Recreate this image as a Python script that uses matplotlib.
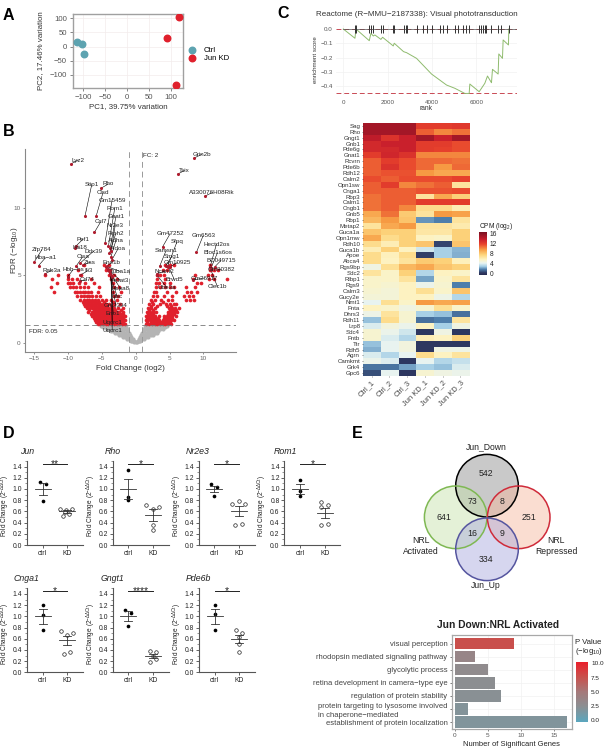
import numpy as np
import matplotlib
matplotlib.use('Agg')
import matplotlib.pyplot as plt
from matplotlib.colors import LinearSegmentedColormap
from matplotlib.patches import Circle

plt.rcParams['font.family'] = ['Liberation Sans', 'DejaVu Sans']
plt.rcParams['mathtext.default'] = 'regular'
plt.rcParams['axes.unicode_minus'] = True

W, H = 604, 749
TXT = '#333333'

# Panel A: PCA
pca_ctrl_x = [-115, -103, -99]
pca_ctrl_y = [15, 8, -25]
pca_kd_x = [92, 118, 112]
pca_kd_y = [32, 104, -135]

# Panel B: volcano, rows of points read by eye (fdr level: fold changes)
gray_rows = {
    0.03: [-0.2, 0, 0.2],
    0.12: [-0.7, -0.5, -0.3, 0.3, 0.5, 0.7],
    0.25: [-1.3, -1.0, -0.7, -0.45, 0.45, 0.7, 1.0, 1.3],
    0.4: [-1.9, -1.6, -1.3, -1.0, -0.65, 0.65, 1.0, 1.3, 1.6, 1.9],
    0.55: [-2.5, -2.2, -1.9, -1.6, -1.3, -0.85, 0.85, 1.3, 1.6, 1.9, 2.2, 2.5],
    0.7: [-3.1, -2.8, -2.5, -2.2, -1.9, -1.6, -1.0, 1.0, 1.6, 1.9, 2.2, 2.5, 2.8, 3.1],
    0.85: [-3.6, -3.3, -3.0, -2.7, -2.4, -2.1, -1.8, -1.2, 1.2, 1.8, 2.1, 2.4, 2.7, 3.0, 3.3],
    1.0: [-4.2, -3.9, -3.6, -3.3, -3.0, -2.7, -2.4, -2.1, -1.7, -1.3, 1.3, 1.7, 2.1, 2.4, 2.7, 3.0, 3.3, 3.6, 4.0],
    1.15: [-4.8, -4.5, -4.2, -3.9, -3.6, -3.3, -3.0, -2.7, -2.4, -2.1, -1.8, -1.4, 1.4, 1.8, 2.1, 2.4, 2.7, 3.0, 3.3, 3.6, 4.0, 4.4],
    1.27: [-5.1, -4.7, -4.3, -3.9, -3.5, -3.1, -2.7, -2.3, -1.9, -1.5, 1.5, 1.9, 2.3, 2.7, 3.1, 3.5, 3.9, 4.3, 4.7],
}
red_rows = {
    1.4: [-5.6, -5.2, -4.8, -4.4, -4, -3.6, -3.2, -2.8, -2.4, -2, -1.6, 1.5, 2, 2.4, 2.8, 3.2, 3.6, 4, 4.4, 4.8, 5.2],
    1.55: [-5.8, -5.4, -5, -4.6, -4.2, -3.8, -3.4, -3, -2.6, -2.2, -1.8, 1.7, 2.2, 2.6, 3, 3.4, 3.8, 4.2, 4.6, 5],
    1.7: [-6, -5.6, -5.2, -4.8, -4.4, -4, -3.6, -3.2, -2.8, -2.4, -2, -1.6, 1.5, 1.9, 2.3, 2.7, 3.1, 3.5, 4, 4.4, 4.8, 5.2, 5.6],
    1.85: [-6.2, -5.8, -5.4, -5, -4.6, -4.2, -3.8, -3.4, -3, -2.6, -2.2, -1.8, 1.7, 2.1, 2.5, 2.9, 3.3, 4.2, 4.6, 5, 5.4],
    2.0: [-6.4, -6, -5.6, -5.2, -4.8, -4.4, -4, -3.6, -3.2, -2.8, -2.4, -2, -1.6, 1.6, 2, 2.4, 2.8, 3.4, 4.2, 4.6, 5, 5.4, 5.9],
    2.15: [-6.6, -6.2, -5.8, -5.4, -5, -4.6, -4.2, -3.8, -3.4, -3, -2.6, -2.2, -1.8, 1.8, 2.2, 2.6, 4.8, 5.2, 5.7],
    2.3: [-7, -6.4, -6, -5.6, -5.2, -4.8, -4.4, -4, -3.6, -3.2, -2.8, -2.4, -1.8, 1.7, 2.1, 2.5, 3, 4.8, 5.2, 5.6, 6.1],
    2.45: [-6.8, -6.2, -5.8, -5.4, -5, -4.6, -4.2, -3.8, -3.4, -3, -2.2, 2, 2.6, 5, 5.5, 6],
    2.6: [-7.2, -6.8, -6.4, -6, -5.6, -5.2, -4.8, -4.4, -4, -3.6, -3.2, -2.6, -1.9, 1.8, 2.3, 2.8, 4.9, 5.4, 5.8, 6.4],
    2.75: [-7.4, -7, -6.6, -6.2, -5.8, -5.4, -5, -4.6, -4.2, -3.5, 2.2, 3.2, 4.7, 5.2],
    2.9: [-7.6, -7.2, -6.8, -6.4, -6, -5.6, -5.2, -4.8, -4.4, -3.9, -3.2, -2.3, 2, 2.5, 3.6, 4.5, 5, 5.6, 6],
    3.05: [-7.8, -7.4, -7, -6.6, -6.2, -5.8, -5.4, -4.7, -3.4, 2.4, 4.1],
    3.2: [-8.2, -7.6, -7.2, -6.8, -6.4, -6, -5.6, -5, -4.4, -3.6, -2.8, 2.2, 2.9, 3.8, 4.8, 5.4, 7.5, 8, 8.6],
    3.5: [-8.6, -8, -7.6, -7.2, -6.8, -6.4, -5.9, -5.2, -3.2, -2.6, 2.5, 3.2, 4.2, 5.4, 7.2, 7.9, 8.4],
    3.8: [-9, -8.6, -8.2, -7.8, -7.4, -7, -6.5, -5.6, -12, -3.4, -2.2, 2.7, 3, 4.6, 6, 7.6, 8.2, 9],
    4.1: [-9.6, -9.2, -8.8, -8.2, -7.6, -7, -5.4, -3.2, -2.4, -12.4, 3, 3.6, 4.4, 5, 5.6, 7.5, 8.8],
    4.4: [-10, -9.6, -9.2, -8.4, -7.4, -6.2, -3.4, -11.6, 3, 3.4, 4.2, 5, 9, 9.6],
    4.7: [-10, -9.4, -8.6, -6.6, -3.6, -2.8, -12.3, 3.2, 4.4, 8.4, 10.8, 11.6, 13.4],
    5.0: [-9.9, -8, -3.2, -3.9, -13.3, -11.4, 3.1, 3.6, 4.2, 8.8, 10.6, 11.3],
    5.4: [-8.5, -4.3, -3.7, 4, 4.6, 11, 11.5, 12.2],
    5.8: [-7.6, -4.6, -3.9, 4.4, 5, 5.6, 10.9],
}

gene_names = ['Grin2b', 'Lyz2', 'Tsix', 'Stip1', 'Rho', 'Clsd', 'Ccl7', 'Gm15459', 'Rom1', 'Gnat1', 'Nr2e3',
              'Prph2', 'Aldha', 'Aldoa', 'Pef1', 'Krt18', 'Ddx39', 'Zfp784', 'Hba−a1', 'Ctsa', 'Ztss', 'Eno1b',
              'Gm47252', 'Sfpq', 'Samsn1', 'Smg1', 'Gm10925', 'Gm6563', 'Hectd2os', 'Bloc1s6os', 'BC049715',
              'A330076H08Rik', 'Rab3a', 'Hbb−bs', 'Ifi3', 'Cd74', 'Tuba1a', 'Arpat3', 'Hspa8', 'Ubc', 'Gm3394',
              'Eno1', 'Uqcrc1', 'Uqcrc1', 'Ncam2', 'Ube3a', 'Brwd5', 'Gm26917', 'Gm30382', 'Clec1b']
gene_x = [8.68, -9.5, 6.2, -7.45, -5.04, -5.83, -6.07, -4.5, -4.0, -3.76, -3.6,
          -3.85, -3.65, -3.5, -8.75, -8.97, -8.2, -14.9, -14.3, -8.8, -7.7, -4.4,
          4.0, 4.75, 3.56, 4.44, 5.1, 8.97, 11.0, 11.1, 11.7,
          10.25, -13.4, -10.0, -8.2, -8.2, -4.25, -4.1, -4.0, -3.9, -3.8,
          -3.7, -3.6, -3.5, 3.1, 3.1, 4.85, 8.4, 11.0, 11.1]
gene_y = [13.74, 13.3, 12.53, 9.43, 11.5, 9.38, 8.2, 7.44, 7.2, 7.0, 6.85,
          6.65, 6.35, 6.15, 7.2, 7.0, 5.9, 6.03, 5.73, 5.66, 5.77, 5.6,
          7.14, 5.7, 5.7, 5.7, 5.65, 6.72, 5.65, 5.54, 5.65,
          10.9, 5.1, 4.9, 5.0, 4.6, 5.66, 5.5, 5.4, 5.3, 5.2,
          5.1, 5.0, 4.9, 5.1, 5.05, 5.65, 4.65, 5.6, 5.4]
label_x = [9.76, -8.5, 7.2, -6.46, -4.0, -4.8, -5.09, -3.47, -3.07, -2.9, -3.0,
           -2.9, -2.9, -2.6, -7.74, -8.2, -6.2, -13.8, -13.3, -7.8, -6.7, -3.5,
           5.09, 6.1, 4.5, 5.3, 6.17, 9.96, 11.9, 12.07, 12.56,
           11.3, -12.36, -9.2, -7.0, -7.2, -2.3, -2.3, -2.2, -2.7, -2.9,
           -3.3, -3.45, -3.45, 4.2, 4.6, 5.7, 10.1, 12.7, 12.07]
label_y = [14.0, 13.57, 12.8, 11.76, 11.8, 11.16, 9.03, 10.6, 10.0, 9.38, 8.73,
           8.14, 7.6, 6.97, 7.7, 7.05, 6.8, 6.92, 6.3, 6.38, 5.98, 5.98,
           8.1, 7.5, 6.85, 6.4, 5.95, 7.96, 7.3, 6.68, 6.1,
           11.16, 5.38, 5.43, 5.36, 4.67, 5.3, 4.64, 4.0, 3.4, 2.78,
           2.16, 1.5, 0.9, 5.3, 4.1, 4.7, 4.8, 5.4, 4.15]

# Panel C: running enrichment score
gsea_rank = [0, 525, 570, 1170, 1245, 1350, 1425, 1695, 1770, 2250, 2295, 2715, 2850, 3300, 3975, 4650,
             5025, 5475, 5670, 5700, 6120, 6225, 6375, 6495, 6675, 6720, 6975, 7005, 7170, 7200, 7440, 7455, 7800]
gsea_es = [0, -0.065, 0, -0.082, -0.03, -0.049, -0.042, -0.073, -0.058, -0.119, -0.10, -0.159, -0.166, -0.206,
           -0.316, -0.393, -0.416, -0.452, -0.452, -0.386, -0.44, -0.416, -0.381, -0.33, -0.377, -0.283, -0.316,
           -0.175, -0.206, -0.077, -0.112, 0, 0]
gsea_hits = [525, 570, 1170, 1245, 1350, 1695, 1770, 2250, 2295, 2715, 2805, 2850, 3300, 3570, 3750, 3975, 4350,
             4500, 4650, 5025, 5145, 5400, 5520, 5670, 6120, 6225, 6300, 6375, 6450, 6675, 6975, 7125, 7455]

# Panel C: heatmap
heat_genes = ['Sag', 'Rho', 'Gngt1', 'Gnb1', 'Pde6g', 'Gnat1', 'Rcvrn', 'Pde6b', 'Rdh12', 'Calm2', 'Opn1sw',
              'Cnga1', 'Rbp3', 'Calm1', 'Cngb1', 'Gnb5', 'Rbp1', 'Metap2', 'Guca1a', 'Opn1mw', 'Rdh10', 'Guca1b',
              'Apoe', 'Abca4', 'Rgs9bp', 'Sdc2', 'Rlbp1', 'Rgs9', 'Calm3', 'Gucy2e', 'Nmt1', 'Fnta', 'Dhrs3',
              'Rdh11', 'Lrp8', 'Sdc4', 'Fntb', 'Ttr', 'Rdh5', 'Agrn', 'Camkmt', 'Grk4', 'Gpc6']
heat_samples = ['Ctrl_1', 'Ctrl_2', 'Ctrl_3', 'Jun KD_1', 'Jun KD_2', 'Jun KD_3']
heat_vals = [
    [15, 15, 15, 12, 12, 12.2], [15, 15, 15, 11, 10, 10.5], [14, 12.5, 13.5, 15, 13.5, 15],
    [13, 13.5, 13.5, 12, 12, 11.5], [13, 13, 13.5, 12, 11.8, 11.5], [12, 13.2, 12.5, 10, 10, 10],
    [11, 12, 11.5, 10.7, 10.7, 10.5], [11, 12.5, 11.5, 10.7, 9.5, 10.7], [11, 11.3, 11.3, 9.5, 9, 9],
    [11.5, 11, 11.5, 11.5, 11.5, 11.8], [11, 12, 10, 10.5, 11, 6.5], [11, 11, 11, 11.3, 11.3, 11.5],
    [10.5, 11, 11, 6.5, 9, 7.5], [10.5, 11, 11, 12, 12, 12], [10.5, 11, 10, 7, 7, 5.8],
    [9, 10.5, 7.8, 6.5, 9.5, 9.2], [8.5, 9.5, 8, 1.8, 1.5, 6.5], [6.5, 9, 9.5, 6.5, 6.5, 6],
    [8, 7.5, 7.5, 6.3, 6.3, 7.5], [9, 7, 7.5, 5.5, 5.3, 7.5], [7, 5.8, 7.5, 8, 0.3, 8],
    [5.8, 7.5, 5.5, 3.5, 2.8, 2.3], [7, 5.6, 7, 0.2, 2.8, 2.2], [7, 5.5, 6.5, 7.8, 7.5, 5.6],
    [4.5, 6.8, 8.5, 9, 8, 7.5], [6.5, 5.3, 7.5, 3, 5.5, 5.3], [5.2, 5.3, 6.5, 2, 5.2, 6.5],
    [5.2, 5, 5.5, 4.2, 5, 1.5], [5, 4.8, 5.5, 6.8, 5.2, 8], [4.8, 4.8, 5.5, 5.5, 4.3, 3],
    [4, 6.8, 5.3, 9.5, 9, 9.3], [5.5, 5.2, 4.5, 5, 6.8, 5.2], [4.3, 6.5, 5, 2.8, 2.5, 1.2],
    [2.5, 7, 5, 1.2, 1.5, 6.5], [3.7, 4.7, 4.2, 5.5, 2.7, 4.5], [5, 4.2, 3.5, 0, 4.5, 0],
    [5, 3.7, 3, 5.8, 5.5, 7.5], [2.5, 4, 4.6, 0, 0, 0], [2.2, 4, 4.6, 0, 4.5, 4.3],
    [3.7, 3, 4, 7, 5.5, 6.5], [4.2, 3.8, 0, 4, 3, 3.3], [1.3, 1.3, 2, 2.8, 2.5, 3.7],
    [0.5, 4, 0, 5, 4.5, 4.2],
]

# Panel D: qPCR
qpcr_genes = ['Jun', 'Rho', 'Nr2e3', 'Rom1', 'Cnga1', 'Gngt1', 'Pde6b']
qpcr_stars = ['**', '*', '*', '*', '*', '****', '*']
ctrl_vals = [[1.12, 1.09, 0.79], [1.34, 0.85, 0.80], [1.09, 1.04, 0.87], [1.16, 0.97, 0.87],
             [1.21, 1.02, 0.76], [1.12, 1.06, 0.83], [1.20, 1.05, 0.76]]
ctrl_off = [[-0.13, 0.13, 0], [0, 0, 0], [-0.13, 0.13, 0], [0, 0, 0], [0, 0, 0], [-0.13, 0.13, 0], [0, 0, 0]]
ctrl_mean = [1.0, 1.0, 1.0, 1.0, 1.0, 1.0, 1.0]
ctrl_sem = [0.10, 0.17, 0.06, 0.09, 0.13, 0.09, 0.13]
kd_vals = [[0.65, 0.63, 0.65, 0.52, 0.56, 0.59], [0.71, 0.64, 0.68, 0.35, 0.26], [0.74, 0.79, 0.74, 0.36, 0.38],
           [0.76, 0.68, 0.72, 0.35, 0.38], [0.73, 0.67, 0.71, 0.33, 0.37], [0.38, 0.37, 0.29, 0.19, 0.23],
           [0.76, 0.71, 0.63, 0.51, 0.37]]
kd_off = [[-0.3, -0.03, 0.22, -0.16, 0.08, -0.08], [-0.27, 0, 0.27, 0, 0], [-0.27, 0, 0.27, -0.14, 0.12],
          [-0.14, -0.14, 0.12, -0.14, 0.12], [-0.27, 0, 0.25, -0.14, 0.12], [-0.13, 0.14, 0, -0.13, 0.14],
          [-0.13, 0.13, 0, 0, 0]]
kd_mean = [0.60, 0.53, 0.60, 0.57, 0.57, 0.29, 0.59]
kd_sem = [0.025, 0.11, 0.09, 0.09, 0.085, 0.04, 0.07]

# Panel E: venn counts
venn_counts = ['542', '641', '251', '334', '73', '8', '16', '9']

# Panel E: GO terms
go_terms = ['visual perception', 'rhodopsin mediated signaling pathway', 'glycolytic process',
            'retina development in camera−type eye', 'regulation of protein stability',
            'protein targeting to lysosome involved\nin chaperone−mediated', 'establishment of protein localization']
go_counts = [9, 3, 5, 6, 7, 2, 17]
go_pvals = [7.5, 3.6, 3.0, 2.6, 2.4, 2.1, 2.0]


def ax_px(fig, x0, y0, x1, y1):
    # axes from pixel box, y measured from the top
    return fig.add_axes([x0 / W, 1 - y1 / H, (x1 - x0) / W, (y1 - y0) / H])


fig = plt.figure(figsize=(W / 100, H / 100), dpi=100)

page = ax_px(fig, 0, 0, W, H)
page.set_xlim(0, W)
page.set_ylim(H, 0)
page.axis('off')
for letter, lx, ly in [('A', 3, 15), ('B', 3, 131), ('C', 277, 14), ('D', 3, 433), ('E', 352, 433)]:
    page.text(lx, ly, letter, fontsize=11.5, fontweight='bold', va='center', color='black')

# ---- A
ax = ax_px(fig, 73, 14, 183, 88)
ax.set_xlim(-124, 128)
ax.set_ylim(-146, 115)
ax.scatter(pca_ctrl_x, pca_ctrl_y, s=22, color='#5da3b0', label='Ctrl', zorder=3)
ax.scatter(pca_kd_x, pca_kd_y, s=22, color='#e0202c', label='Jun KD', zorder=3)
ax.set_xticks([-100, -50, 0, 50, 100])
ax.set_yticks([-100, -50, 0, 50, 100])
ax.grid(color='#f3ecec', lw=0.5)
ax.set_axisbelow(True)
for s in ax.spines.values():
    s.set_color('#a0a0a0')
    s.set_linewidth(1)
ax.tick_params(labelsize=5.6, length=2, width=0.5, pad=2.5, colors='#555555')
ax.set_xlabel('PC1, 39.75% variation', fontsize=5.7, labelpad=1, color=TXT)
ax.set_ylabel('PC2, 17.46% variation', fontsize=5.7, color=TXT)
ax.yaxis.set_label_coords(-0.264, 0.5)
ax.legend(loc='center left', bbox_to_anchor=(1.0, 0.46), frameon=False, fontsize=5.6, handletextpad=1.0,
          labelspacing=0.1, borderpad=0.2, borderaxespad=0.5, handlelength=1)

# ---- B
ax = ax_px(fig, 25, 149, 236, 352)
ax.set_xlim(-16.3, 14.8)
ax.set_ylim(-0.7, 14.4)
for lvl, xs in gray_rows.items():
    ax.scatter(xs, [lvl] * len(xs), s=9, color='#b4b4b4', lw=0, zorder=1)
for lvl, xs in red_rows.items():
    ax.scatter(xs, [lvl] * len(xs), s=7, color='#e0202c', lw=0, zorder=2)
ax.axhline(1.3, color='#777777', lw=0.6, ls=(0, (6, 4)), zorder=3)
ax.axvline(-1, color='#999999', lw=0.7, ls=(0, (6, 4)), zorder=3)
ax.axvline(1, color='#999999', lw=0.7, ls=(0, (6, 4)), zorder=3)
for nm, gx, gy, lx, ly in zip(gene_names, gene_x, gene_y, label_x, label_y):
    ax.plot([gx, lx], [gy, ly], color='black', lw=0.4, zorder=4)
    ax.scatter([gx], [gy], s=5, color='#b01c2e', lw=0, zorder=5)
    ax.text(lx, ly, nm, fontsize=4.5, ha='center', va='center', color='#222222', zorder=6)
ax.text(1.05, 13.9, 'FC: 2', fontsize=4.5, va='center', color='#222222')
ax.text(-15.7, 0.82, 'FDR: 0.05', fontsize=4.5, va='center', color='#222222')
ax.set_xticks([-15, -10, -5, 0, 5, 10])
ax.set_yticks([0, 5, 10])
ax.spines['top'].set_visible(False)
ax.spines['right'].set_visible(False)
ax.spines['left'].set_color('#888888')
ax.spines['bottom'].set_color('#888888')
ax.tick_params(labelsize=4.6, length=1.5, width=0.5, pad=1.5, colors='#666666')
ax.set_xlabel('Fold Change (log2)', fontsize=5.8, labelpad=3, color=TXT)
ax.set_ylabel('FDR (−log$_{10}$)', fontsize=5.8, color=TXT)
ax.yaxis.set_label_coords(-0.024, 0.5)

# ---- C top
ax = ax_px(fig, 335.7, 25, 517.3, 95)
ax.set_xlim(-342, 7838)
ax.set_ylim(-0.463, 0.028)
ax.axhline(0, color='#c94a55', lw=0.7, ls=(0, (5, 3)), zorder=2)
ax.axhline(-0.45, color='#c94a55', lw=0.7, ls=(0, (5, 3)), zorder=2)
ax.plot(gsea_rank[:-1], gsea_es[:-1], color='#8fbb6e', lw=0.7, zorder=3)
ax.plot([0, 7800], [0, 0], color='#555555', lw=0.5, zorder=3)
ax.vlines(gsea_hits, -0.026, 0.026, color='#333333', lw=0.7, zorder=4)
ax.set_xticks([0, 2000, 4000, 6000])
ax.set_yticks([0, -0.1, -0.2, -0.3, -0.4])
ax.set_yticklabels(['0.0', '−0.1', '−0.2', '−0.3', '−0.4'])
ax.grid(color='#f1f1f1', lw=0.5)
ax.set_axisbelow(True)
for s in ax.spines.values():
    s.set_visible(False)
ax.tick_params(labelsize=4.5, length=0, colors='#555555')
ax.tick_params(axis='x', pad=3.5)
ax.tick_params(axis='y', pad=2)
ax.set_xlabel('rank', fontsize=4.8, labelpad=0, color=TXT)
ax.set_ylabel('enrichment score', fontsize=4.4, labelpad=1.5, color=TXT)
page.text(316, 15, 'Reactome (R−MMU−2187338): Visual phototransduction', fontsize=5.8, va='center', color=TXT)

# ---- C heatmap
heat_cmap = LinearSegmentedColormap.from_list('cpm', [
    (0.0, '#262a50'), (0.05, '#2f3a63'), (0.13, '#4f7fac'), (0.2, '#a5cfe6'), (0.275, '#e9f4f1'), (0.36, '#fdf3c2'),
    (0.47, '#fdd67e'), (0.59, '#f79c44'), (0.72, '#e8422c'), (0.83, '#c81e2c'), (1.0, '#7a1022')])
ax = ax_px(fig, 362.7, 123, 469.3, 376)
heat_im = ax.imshow(np.array(heat_vals), cmap=heat_cmap, vmin=-0.8, vmax=16.6, aspect='auto', interpolation='nearest')
ax.set_xticks(range(len(heat_samples)))
ax.set_xticklabels(heat_samples, rotation=45, ha='right', rotation_mode='anchor')
ax.set_yticks(range(len(heat_genes)))
ax.set_yticklabels(heat_genes)
for s in ax.spines.values():
    s.set_visible(False)
ax.tick_params(axis='y', labelsize=4.4, length=1, width=0.4, pad=0.8, colors='#333333')
ax.tick_params(axis='x', labelsize=5.4, length=1, width=0.4, pad=1, colors='#444444')
cax = ax_px(fig, 479, 232, 487, 275)
cb = fig.colorbar(heat_im, cax=cax, ticks=[0, 4, 8, 12, 16])
cb.outline.set_visible(False)
cb.ax.tick_params(labelsize=4.8, length=0, pad=2, colors='#222222')
page.text(479, 226, 'CPM (log$_2$)', fontsize=4.8, va='center', color='#222222')

# ---- D
d_left = [26.7, 112.7, 199, 284.3, 26.7, 112.7, 199]
d_ctrl = [42.7, 128.3, 214.3, 300.3, 42.7, 128.3, 214.7]
d_bottom = [545, 545, 545, 545, 672.3, 672.3, 672.3]
d_title_x = [20, 105, 186, 274, 14, 101, 186]
for i, gene in enumerate(qpcr_genes):
    x0 = d_left[i]
    x1 = x0 + 56
    ybot = d_bottom[i]
    ax = ax_px(fig, x0, ybot - 84, x1, ybot)
    ax.set_xlim((x0 - d_ctrl[i]) / 24.4, (x1 - d_ctrl[i]) / 24.4)
    ax.set_ylim(0, 1.5)
    ax.patch.set_alpha(0)
    ax.scatter([o for o in ctrl_off[i]], ctrl_vals[i], s=7, color='black', lw=0, zorder=3, clip_on=False)
    ax.scatter([1 + o for o in kd_off[i]], kd_vals[i], s=6.5, facecolor='white', edgecolor='#222222', lw=0.5, zorder=3)
    for xc, m, e in [(0, ctrl_mean[i], ctrl_sem[i]), (1, kd_mean[i], kd_sem[i])]:
        ax.plot([xc - 0.33, xc + 0.33], [m, m], color='#333333', lw=0.6, zorder=4)
        ax.plot([xc, xc], [m - e, m + e], color='#333333', lw=0.6, zorder=4)
        ax.plot([xc - 0.16, xc + 0.16], [m - e, m - e], color='#333333', lw=0.6, zorder=4)
        ax.plot([xc - 0.16, xc + 0.16], [m + e, m + e], color='#333333', lw=0.6, zorder=4)
    ax.plot([0, 1], [1.45, 1.45], color='#222222', lw=0.7, clip_on=False)
    ax.text(0.5, 1.39, qpcr_stars[i], fontsize=7.4, ha='center', va='baseline', color='#222222')
    ax.set_xticks([0, 1])
    ax.set_xticklabels(['ctrl', 'KD'])
    ax.set_yticks(np.arange(0, 1.41, 0.2))
    ax.set_yticks(np.arange(0, 1.51, 0.1), minor=True)
    ax.set_yticklabels(['%.1f' % v for v in np.arange(0, 1.41, 0.2)])
    ax.spines['top'].set_visible(False)
    ax.spines['right'].set_visible(False)
    ax.spines['left'].set_linewidth(0.8)
    ax.spines['bottom'].set_linewidth(0.8)
    ax.spines['left'].set_color('#555555')
    ax.spines['bottom'].set_color('#555555')
    ax.tick_params(axis='both', labelsize=4.9, length=2.2, width=0.5, pad=1.2, colors='#222222')
    ax.tick_params(axis='y', which='minor', length=1.2, width=0.4, colors='#444444')
    ax.set_ylabel('Fold Change (2$^{-\\Delta\\Delta Ct}$)', fontsize=4.7, color='#222222')
    ax.yaxis.set_label_coords(-0.265, 0.46)
    page.text(d_title_x[i], ybot - 93 if i < 4 else ybot - 94, gene, fontsize=6.3, style='italic', va='center', color='#222222')

# ---- E venn
venn_circles = [(487, 485.7, '#a8a8a8', 'black', 0.62), (455.7, 517.3, '#c4e0a8', '#7fb853', 0.45),
                (518.7, 517.3, '#f6b49a', '#cf2b3a', 0.45), (487, 549.3, '#a6a6dc', '#55559f', 0.45)]
for cx, cy, fc, ec, al in venn_circles:
    page.add_patch(Circle((cx, cy), 31.3, facecolor=fc, edgecolor='none', alpha=al))
for cx, cy, fc, ec, al in venn_circles:
    page.add_patch(Circle((cx, cy), 31.3, fill=False, edgecolor=ec, lw=1.1))
venn_x = [486, 444, 529, 486, 472, 502, 472, 502]
venn_y = [474, 518, 518, 560, 501, 501, 533, 533]
for t, vx, vy in zip(venn_counts, venn_x, venn_y):
    page.text(vx, vy, t, fontsize=6.3, ha='center', va='center', color='#222222')
page.text(486, 447, 'Jun_Down', fontsize=6.2, ha='center', va='center', color='#222222')
page.text(486, 586, 'Jun_Up', fontsize=6.2, ha='center', va='center', color='#222222')
page.text(421, 546, 'NRL\nActivated', fontsize=6.2, ha='center', va='center', color='#222222', linespacing=1.2)
page.text(556, 546, 'NRL\nRepressed', fontsize=6.2, ha='center', va='center', color='#222222', linespacing=1.2)

# ---- E bars
go_cmap = LinearSegmentedColormap.from_list('go', [(0.0, '#5ba6bd'), (0.25, '#8b8f92'), (0.5, '#a5797a'),
                                                   (0.75, '#c9504c'), (1.0, '#ea1f2a')])
ax = ax_px(fig, 451.7, 635, 571.7, 729.3)
go_pos = np.arange(len(go_terms))
ax.barh(go_pos, go_counts, height=0.87, color=go_cmap(np.array(go_pvals) / 10.0), zorder=3)
ax.set_xlim(-0.5, 17.7)
ax.set_ylim(6.55, -0.65)
ax.set_yticks(go_pos)
ax.set_yticklabels(go_terms, multialignment='left', linespacing=1.35)
ax.set_xticks([0, 5, 10, 15])
ax.grid(color='#f2f2f2', lw=0.5)
ax.set_axisbelow(True)
for s in ax.spines.values():
    s.set_color('#a8a8a8')
    s.set_linewidth(0.9)
ax.tick_params(axis='y', labelsize=5.5, length=1.5, width=0.5, pad=1.5, colors='#444444')
ax.tick_params(axis='x', labelsize=4.6, length=1.5, width=0.5, pad=1.5, colors='#555555')
ax.set_xlabel('Number of Significant Genes', fontsize=5.4, labelpad=1.5, color='#222222')
page.text(498, 625, 'Jun Down:NRL Activated', fontsize=7.4, fontweight='bold', ha='center', va='center', color='#222222')
cax = ax_px(fig, 575.7, 661.7, 588.3, 721.7)
sm = plt.cm.ScalarMappable(cmap=go_cmap, norm=plt.Normalize(-0.3, 10.3))
cb = fig.colorbar(sm, cax=cax, ticks=[0, 2.5, 5, 7.5, 10])
cb.ax.set_yticklabels(['0.0', '2.5', '5.0', '7.5', '10.0'])
cb.outline.set_visible(False)
cb.ax.tick_params(labelsize=4.6, length=0, pad=2, colors='#222222')
page.text(575, 648, 'P Value\n(−log$_{10}$)', fontsize=5.6, va='center', color='#222222', linespacing=1.1)

fig.savefig('out.png', dpi=100)
